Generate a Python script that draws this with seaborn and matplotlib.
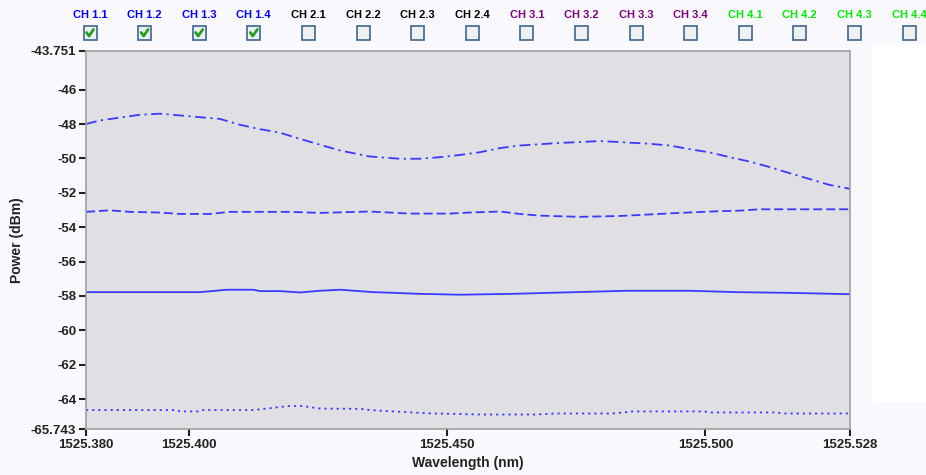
import numpy as np
import pandas as pd
import matplotlib
matplotlib.use("Agg")
import matplotlib.pyplot as plt
from matplotlib.patches import Rectangle
from matplotlib.lines import Line2D
import seaborn as sns

# ---- data ----
ch14_x = [1525.380, 1525.3827, 1525.3905, 1525.3943, 1525.4020, 1525.4059, 1525.4098,
          1525.4137, 1525.4175, 1525.4214, 1525.4253, 1525.4292, 1525.4350, 1525.4408,
          1525.4447, 1525.4485, 1525.4524, 1525.4563, 1525.4602, 1525.4640, 1525.4718,
          1525.4756, 1525.4795, 1525.4834, 1525.4892, 1525.4931, 1525.4969, 1525.5008,
          1525.5047, 1525.5085, 1525.5124, 1525.5163, 1525.5202, 1525.5240, 1525.528]
ch14_y = [-48.00, -47.79, -47.46, -47.40, -47.60, -47.70, -48.04, -48.30, -48.50, -48.86,
          -49.20, -49.54, -49.89, -50.02, -50.02, -49.93, -49.80, -49.64, -49.40, -49.25,
          -49.10, -49.05, -48.99, -49.05, -49.15, -49.25, -49.46, -49.65, -49.93, -50.18,
          -50.50, -50.86, -51.20, -51.54, -51.77]

ch12_x = [1525.380, 1525.3846, 1525.3885, 1525.3943, 1525.3982, 1525.4040, 1525.4079,
          1525.4195, 1525.4253, 1525.4350, 1525.4427, 1525.4505, 1525.4543, 1525.4602,
          1525.4640, 1525.4679, 1525.4756, 1525.4834, 1525.4911, 1525.4950, 1525.5027,
          1525.5066, 1525.5105, 1525.528]
ch12_y = [-53.11, -53.02, -53.11, -53.15, -53.23, -53.23, -53.11, -53.11, -53.17, -53.09,
          -53.21, -53.21, -53.15, -53.09, -53.23, -53.33, -53.40, -53.35, -53.23, -53.17,
          -53.07, -53.04, -52.96, -52.96]

ch11_x = [1525.380, 1525.4021, 1525.4073, 1525.4124, 1525.4137, 1525.4176, 1525.4215,
          1525.4253, 1525.4292, 1525.4356, 1525.4395, 1525.4447, 1525.4524, 1525.4627,
          1525.4698, 1525.4775, 1525.4847, 1525.4970, 1525.5060, 1525.5160, 1525.528]
ch11_y = [-57.78, -57.78, -57.64, -57.64, -57.72, -57.72, -57.80, -57.70, -57.64, -57.78,
          -57.82, -57.88, -57.93, -57.88, -57.82, -57.76, -57.70, -57.70, -57.78, -57.82,
          -57.90]

ch13_x = [1525.380, 1525.3976, 1525.3982, 1525.4021, 1525.4027, 1525.4124, 1525.4163,
          1525.4190, 1525.4221, 1525.4252, 1525.4331, 1525.4350, 1525.4393, 1525.4432,
          1525.4470, 1525.4509, 1525.4564, 1525.4670, 1525.4711, 1525.4820, 1525.4860,
          1525.4997, 1525.5010, 1525.5137, 1525.5150, 1525.528]
ch13_y = [-64.64, -64.64, -64.72, -64.72, -64.64, -64.64, -64.51, -64.41, -64.41, -64.55,
          -64.57, -64.64, -64.72, -64.78, -64.84, -64.86, -64.90, -64.90, -64.84, -64.84,
          -64.72, -64.72, -64.78, -64.78, -64.84, -64.84]

series_names = ["CH 1.4", "CH 1.2", "CH 1.1", "CH 1.3"]
series_x = [ch14_x, ch12_x, ch11_x, ch13_x]
series_y = [ch14_y, ch12_y, ch11_y, ch13_y]
series_dash = [(6, 2.5, 1.2, 2.5), (5, 2.2), "", (1.2, 2.2)]

legend_labels = ["CH 1.1", "CH 1.2", "CH 1.3", "CH 1.4",
                 "CH 2.1", "CH 2.2", "CH 2.3", "CH 2.4",
                 "CH 3.1", "CH 3.2", "CH 3.3", "CH 3.4",
                 "CH 4.1", "CH 4.2", "CH 4.3", "CH 4.4"]
legend_colors = ["#0000ff"] * 4 + ["#000000"] * 4 + ["#800080"] * 4 + ["#00ee00"] * 4
legend_checked = [True] * 4 + [False] * 12

xticks = [1525.380, 1525.400, 1525.450, 1525.500, 1525.528]
xtick_labels = ["1525.380", "1525.400", "1525.450", "1525.500", "1525.528"]
yticks = [-43.751, -46, -48, -50, -52, -54, -56, -58, -60, -62, -64, -65.743]
ytick_labels = ["-43.751", "-46", "-48", "-50", "-52", "-54", "-56", "-58", "-60",
                "-62", "-64", "-65.743"]

# ---- plotting ----
sns.set_theme(style="white")
plt.rcParams["font.family"] = ["Liberation Sans", "DejaVu Sans"]

W, H = 926, 475
fig = plt.figure(figsize=(W / 100, H / 100), dpi=100)
fig.patch.set_facecolor("#f9f9fd")
# white area at right
fig.patches.append(Rectangle((872 / W, 1 - 402 / H), (W - 872) / W, (402 - 45) / H,
                             transform=fig.transFigure, facecolor="white",
                             edgecolor="none", zorder=0))

ax = fig.add_axes([86 / W, 1 - 429 / H, (850 - 86) / W, (429 - 51) / H])
ax.set_facecolor("#dfdfe4")

frames = []
for name, xs, ys in zip(series_names, series_x, series_y):
    frames.append(pd.DataFrame({"Wavelength": xs, "Power": ys, "Channel": name}))
df = pd.concat(frames, ignore_index=True)

sns.lineplot(data=df, x="Wavelength", y="Power", hue="Channel", style="Channel",
             hue_order=series_names, style_order=series_names,
             palette=["#3a3aff"] * 4, dashes=series_dash, linewidth=1.3,
             legend=False, ax=ax, estimator=None, sort=False)

ax.set_xlim(1525.380, 1525.528)
ax.set_ylim(-65.743, -43.751)
ax.set_xticks(xticks)
ax.set_xticklabels(xtick_labels)
ax.set_yticks(yticks)
ax.set_yticklabels(ytick_labels)
ax.tick_params(axis="both", direction="out", length=5, width=1.5, color="#222222",
               labelsize=9.5, labelcolor="#222222", pad=2, left=True, bottom=True)
for lab in ax.get_xticklabels() + ax.get_yticklabels():
    lab.set_fontweight("bold")
for s in ax.spines.values():
    s.set_color("#a0a0a0")
    s.set_linewidth(1.2)

ax.set_xlabel("Wavelength (nm)", fontsize=10, fontweight="bold", color="#222222",
              labelpad=4)
ax.set_ylabel("Power (dBm)", fontsize=10, fontweight="bold", color="#222222",
              labelpad=5)

# ---- checkbox legend ----
x0, dx = 90, 54.6
for i, (lab, col, chk) in enumerate(zip(legend_labels, legend_colors, legend_checked)):
    cx = x0 + i * dx
    fig.text(cx / W, 1 - 14.5 / H, lab, color=col, fontsize=8, fontweight="bold",
             ha="center", va="center")
    bw = 13
    fig.patches.append(Rectangle(((cx - bw / 2) / W, 1 - (33 + bw / 2) / H), bw / W, bw / H,
                                 transform=fig.transFigure, facecolor="#eef0f0",
                                 edgecolor="#3c6690", linewidth=1.2))
    if chk:
        fig.lines.append(Line2D([(cx - 3.5) / W, (cx - 1) / W, (cx + 3.5) / W],
                                [1 - 32.5 / H, 1 - 36 / H, 1 - 29.5 / H],
                                transform=fig.transFigure, color="#1fa01f",
                                linewidth=2))

fig.savefig("out.png", dpi=100, facecolor=fig.get_facecolor())
